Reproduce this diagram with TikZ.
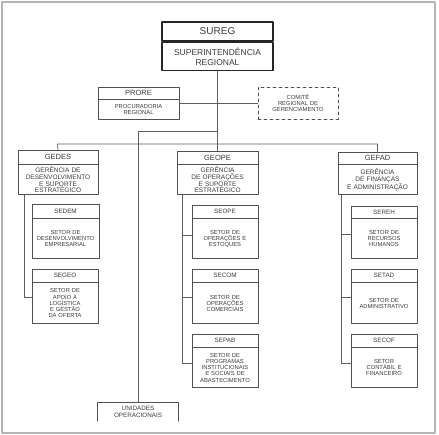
\documentclass[tikz,border=0pt]{standalone}
\usepackage{fontspec}
\setmainfont{Liberation Sans}
\usetikzlibrary{positioning}
\definecolor{linc}{HTML}{5E5E5E}
\definecolor{boxc}{HTML}{505050}
\definecolor{txtc}{HTML}{3A3A3A}
\definecolor{framec}{HTML}{B4B4B4}
\newcommand{\fsureg}{\fontsize{10}{11}\selectfont}
\newcommand{\fsup}{\fontsize{8.5}{10}\selectfont}
\newcommand{\fger}{\fontsize{7.5}{8}\selectfont}
\newcommand{\fgtxt}{\fontsize{6.5}{6.8}\selectfont}
\newcommand{\fset}{\fontsize{6.3}{7}\selectfont}
\newcommand{\fstxt}{\fontsize{5.8}{6.2}\selectfont}

\begin{document}
\begin{tikzpicture}[x=1pt,y=-1pt,line cap=round,line join=round,
    hd/.style={draw=boxc,line width=0.8pt,inner sep=0pt,align=center,text=txtc},
    bd/.style={draw=boxc,line width=0.8pt,inner sep=1pt,align=center,text=txtc},
    lig/.style={draw=linc,line width=0.7pt}]
	\useasboundingbox (0,0) rectangle (439,435);
	\draw[framec,line width=1.2pt] (2,2) rectangle (435,433);
	% Nivel 1
	\node[hd,draw=black!85,line width=1.4pt,minimum width=111,minimum height=19,font=\fsureg] (sureg) at (217.5,31.5) {SUREG};
	\node[bd,draw=black!85,line width=1.4pt,text width=109,minimum height=28,font=\fsup,below=0pt of sureg] (suregb) {SUPERINTENDÊNCIA\\REGIONAL};
	% Assessorias
	\node[hd,minimum width=81,minimum height=12,font=\fger] (prore) at (138.5,93) {PRORE};
	\node[bd,text width=79,minimum height=20,font=\fstxt,below=0pt of prore] (proreb) {PROCURADORIA\\REGIONAL};
	\node[bd,dashed,text width=78,minimum height=32,font=\fstxt] (comite) at (298,103) {COMITÊ\\REGIONAL DE\\GERENCIAMENTO};
	\node[align=center,inner sep=0pt,minimum width=80,minimum height=18,font=\fset,text=txtc] (unid) at (138,412) {UNIDADES\\OPERACIONAIS};
	\draw[boxc,line width=0.8pt] (unid.south west) |- (unid.north east) -- (unid.south east);
	% Nivel 2
	\node[hd,minimum width=80,minimum height=14,font=\fger] (gedes) at (58,157) {GEDES};
	\node[bd,text width=78,minimum height=30,font=\fgtxt,below=0pt of gedes] (gedesb) {GERÊNCIA DE\\DESENVOLVIMENTO\\E SUPORTE\\ESTRATÉGICO};
	\node[hd,minimum width=81,minimum height=13,font=\fger] (geope) at (217.5,157.5) {GEOPE};
	\node[bd,text width=79,minimum height=30,font=\fgtxt,below=0pt of geope] (geopeb) {GERÊNCIA\\DE OPERAÇÕES\\E SUPORTE\\ESTRATÉGICO};
	\node[hd,minimum width=79,minimum height=12,font=\fger] (gefad) at (377.5,158) {GEFAD};
	\node[bd,text width=77,minimum height=30,font=\fgtxt,below=0pt of gefad] (gefadb) {GERÊNCIA\\DE FINANÇAS\\E ADMINISTRAÇÃO};
	% Nivel 3
	\node[hd,minimum width=67,minimum height=14,font=\fset] (sedem) at (65.5,211) {SEDEM};
	\node[bd,text width=65,minimum height=40,font=\fstxt,below=0pt of sedem] (sedemb) {SETOR DE\\DESENVOLVIMENTO\\EMPRESARIAL};
	\node[hd,minimum width=66,minimum height=13,font=\fset] (segeo) at (65,275.5) {SEGEO};
	\node[bd,text width=64,minimum height=41,font=\fstxt,below=0pt of segeo] (segeob) {SETOR DE\\APOIO À\\LOGÍSTICA\\E GESTÃO\\DA OFERTA};
	\node[hd,minimum width=66,minimum height=13,font=\fset] (seope) at (225,211.5) {SEOPE};
	\node[bd,text width=64,minimum height=40,font=\fstxt,below=0pt of seope] (seopeb) {SETOR DE\\OPERAÇÕES E\\ESTOQUES};
	\node[hd,minimum width=66,minimum height=13,font=\fset] (secom) at (225,275.5) {SECOM};
	\node[bd,text width=64,minimum height=41,font=\fstxt,below=0pt of secom] (secomb) {SETOR DE\\OPERAÇÕES\\COMERCIAIS};
	\node[hd,minimum width=66,minimum height=13,font=\fset] (sepab) at (225,340.5) {SEPAB};
	\node[bd,text width=64,minimum height=40,font=\fstxt,below=0pt of sepab] (sepabb) {SETOR DE\\PROGRAMAS\\INSTITUCIONAIS\\E SOCIAIS DE\\ABASTECIMENTO};
	\node[hd,minimum width=66,minimum height=12,font=\fset] (sereh) at (384,212) {SEREH};
	\node[bd,text width=64,minimum height=40,font=\fstxt,below=0pt of sereh] (serehb) {SETOR DE\\RECURSOS\\HUMANOS};
	\node[hd,minimum width=66,minimum height=13,font=\fset] (setad) at (384,275.5) {SETAD};
	\node[bd,text width=64,minimum height=41,font=\fstxt,below=0pt of setad] (setadb) {SETOR DE\\ADMINISTRATIVO};
	\node[hd,minimum width=66,minimum height=13,font=\fset] (secof) at (384,340.5) {SECOF};
	\node[bd,text width=64,minimum height=40,font=\fstxt,below=0pt of secof] (secofb) {SETOR\\CONTÁBIL E\\FINANCEIRO};
	% Ligacoes
	\coordinate (busl) at (57.5,144);
	\coordinate (busr) at (377.5,144);
	\coordinate (knee) at (217.5,131);
	\draw[lig] (suregb.south) -- (geope.north);
	\draw[lig] (comite.west) -- (comite.west -| proreb.east);
	\draw[lig] (knee) -| (unid.north);
	\draw[lig] (gedes.north) -- (busl) -- (busr) -- (gefad.north);
	\draw[lig] ([yshift=6pt]segeob.west) -| ([xshift=7pt]gedesb.south west);
	\draw[lig] ([yshift=3pt]seopeb.west) -| ([xshift=6pt]geopeb.south west);
	\draw[lig] ([yshift=6pt]secomb.west) -| ([xshift=6pt]geopeb.south west);
	\draw[lig] ([yshift=4pt]sepabb.west) -| ([xshift=6pt]geopeb.south west);
	\draw[lig] ([yshift=4pt]serehb.west) -| ([xshift=4pt]gefadb.south west);
	\draw[lig] ([yshift=6pt]setadb.west) -| ([xshift=4pt]gefadb.south west);
	\draw[lig] ([yshift=4pt]secofb.west) -| ([xshift=4pt]gefadb.south west);
\end{tikzpicture}
\end{document}
